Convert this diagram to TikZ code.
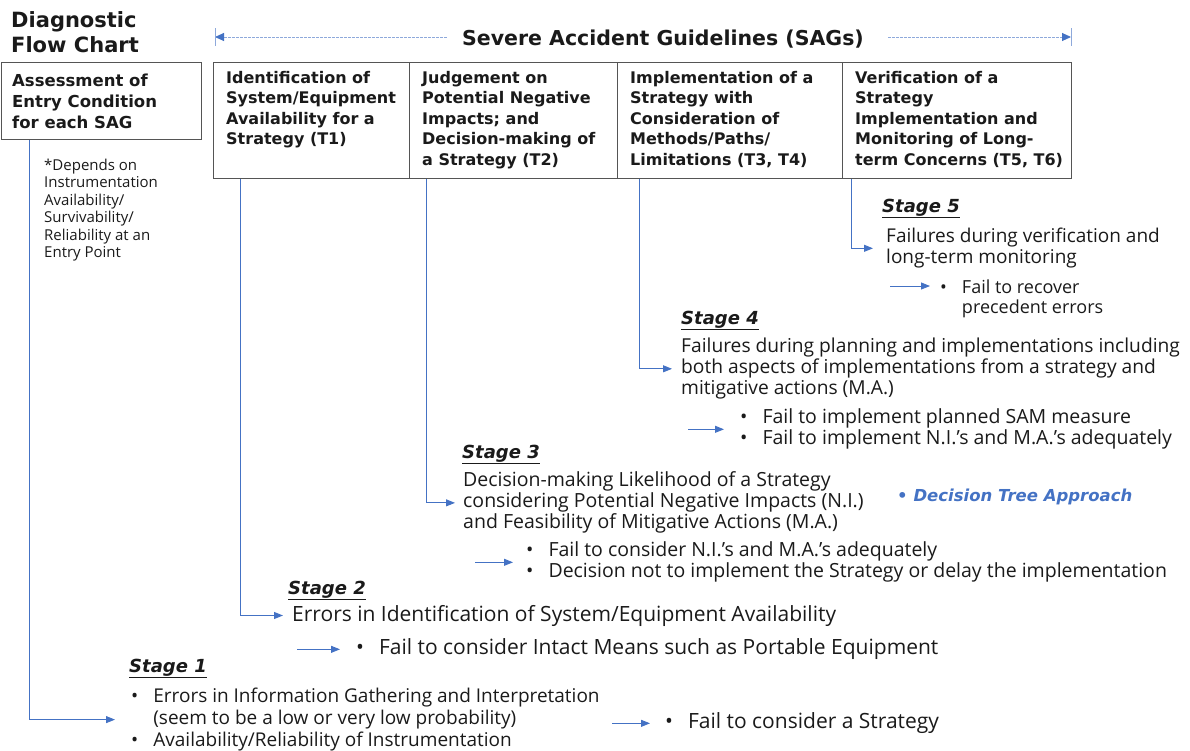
\documentclass[tikz,border=0pt]{standalone}
\usepackage{fontspec}
\setmainfont{Open Sans}
\newfontfamily\djv{DejaVu Sans}
\usetikzlibrary{arrows.meta,calc}
\definecolor{ablue}{HTML}{4472C4}
\definecolor{dashblue}{HTML}{8EA9DB}
\definecolor{boxgray}{HTML}{555555}
\definecolor{ink}{HTML}{1A1A1A}
\newcommand{\mlines}[1]{\begin{tabular}[t]{@{}l@{}}#1\end{tabular}}
\newcommand{\blist}[1]{\begin{tabular}[t]{@{}l@{\hspace{15pt}}l@{}}#1\end{tabular}}
\begin{document}
\begin{tikzpicture}[x=1pt,y=-1pt,
  conn/.style={draw=ablue, line width=0.9pt, -{Triangle[length=9pt,width=7pt]}},
  hdash/.style={draw=dashblue, line width=0.9pt, dash pattern=on 2.5pt off 1.5pt},
  boxshape/.style={draw=boxgray, line width=1pt, anchor=north west, inner sep=0pt},
  boxtext/.style={anchor=base west, inner sep=0pt, text=ink, font=\djv\bfseries\fontsize{16}{20.5}\selectfont},
  body/.style={anchor=base west, inner sep=0pt, text=ink, font=\fontsize{19.5}{21}\selectfont},
  bigbody/.style={anchor=base west, inner sep=0pt, text=ink, font=\fontsize{21}{22}\selectfont},
  stagelbl/.style={anchor=base west, inner sep=0pt, text=ink, font=\djv\bfseries\itshape\fontsize{18}{20}\selectfont},
]
\useasboundingbox (0,0) rectangle (1190,750);

% title
\node[anchor=base west, inner sep=0pt, text=ink, font=\djv\bfseries\fontsize{21}{25}\selectfont] (title) at (11,27) {\mlines{Diagnostic\\Flow Chart}};

% header
\node[anchor=base, inner sep=0pt, text=ink, font=\djv\bfseries\fontsize{20.5}{24}\selectfont] (sag) at (663,45) {Severe Accident Guidelines (SAGs)};
\coordinate (hl) at (215,37);
\coordinate (hr) at (1071,37);
\draw[hdash, -{Triangle[length=9pt,width=8pt,color=ablue]}] ($(sag.west |- hl)+(-15,0)$) -- (hl);
\draw[hdash, -{Triangle[length=9pt,width=8pt,color=ablue]}] ($(sag.east |- hr)+(24,0)$) -- (hr);
\draw[draw=dashblue, line width=0.8pt] ($(hl)+(0,-9)$) -- ($(hl)+(0,9)$);
\draw[draw=dashblue, line width=0.8pt] ($(hr)+(0,-9)$) -- ($(hr)+(0,9)$);

% boxes
\node[boxshape, minimum width=200pt, minimum height=77pt] (ass) at (0.5,62) {};
\node[boxshape, minimum width=196pt, minimum height=116pt] (t1) at (213,62) {};
\node[boxshape, minimum width=208pt, minimum height=116pt] (t2) at (409,62) {};
\node[boxshape, minimum width=225pt, minimum height=116pt] (t3) at (617,62) {};
\node[boxshape, minimum width=229pt, minimum height=116pt] (t4) at (842,62) {};

\node[boxtext, font=\djv\bfseries\fontsize{16.5}{21}\selectfont] (asst) at (12,86) {\mlines{Assessment of\\Entry Condition\\for each SAG}};
\node[boxtext] (t1t) at (226,83) {\mlines{Identification of\\System/Equipment\\Availability for a\\Strategy (T1)}};
\node[boxtext] (t2t) at (422,83) {\mlines{Judgement on\\Potential Negative\\Impacts; and\\Decision-making of\\a Strategy (T2)}};
\node[boxtext] (t3t) at (630,83) {\mlines{Implementation of a\\Strategy with\\Consideration of\\Methods/Paths/\\Limitations (T3, T4)}};
\node[boxtext] (t4t) at (855,83) {\mlines{Verification of a\\Strategy\\Implementation and\\Monitoring of Long-\\term Concerns (T5, T6)}};

% note
\node[anchor=base west, inner sep=0pt, text=ink, font=\fontsize{15}{17.5}\selectfont] (note) at (44,170) {\mlines{*Depends on\\Instrumentation\\Availability/\\Survivability/\\Reliability at an\\Entry Point}};

% stage 5
\node[stagelbl] (st5) at (882,212) {\underline{Stage 5}};
\node[body, font=\fontsize{19}{21}\selectfont] (s5) at (886,242) {\mlines{Failures during verification and\\long-term monitoring}};
\node[body, font=\fontsize{18}{20}\selectfont] (b5) at (940,293) {\blist{•&Fail to recover\\&precedent errors}};
\draw[conn] ($(t4.south west)+(9,0)$) |- ([xshift=-13pt]s5.west);
\draw[conn] ($(b5.base west)+(-50,-7)$) -- ($(b5.base west)+(-10,-7)$);

% stage 4
\node[stagelbl] (st4) at (681,324) {\underline{Stage 4}};
\node[body, font=\fontsize{19.2}{21}\selectfont] (s4) at (681,352) {\mlines{Failures during planning and implementations including\\both aspects of implementations from a strategy and\\mitigative actions (M.A.)}};
\node[body] (b4) at (740,423) {\blist{•&Fail to implement planned SAM measure\\•&Fail to implement N.I.’s and M.A.’s adequately}};
\draw[conn] ($(t3.south west)+(22,0)$) |- ([xshift=-9pt]s4.west);
\draw[conn] ([xshift=-52pt]b4.west) -- ([xshift=-16pt]b4.west);

% stage 3
\node[stagelbl] (st3) at (462,458) {\underline{Stage 3}};
\node[body] (s3) at (463,486) {\mlines{Decision-making Likelihood of a Strategy\\considering Potential Negative Impacts (N.I.)\\and Feasibility of Mitigative Actions (M.A.)}};
\node[anchor=base west, inner sep=0pt, text=ablue, font=\djv\bfseries\itshape\fontsize{16.5}{18}\selectfont] (dta) at (897,501) {• Decision Tree Approach};
\node[body] (b3) at (526,556) {\blist{•&Fail to consider N.I.’s and M.A.’s adequately\\•&Decision not to implement the Strategy or delay the implementation}};
\draw[conn] ($(t2.south west)+(17,0)$) |- ([xshift=-8pt]s3.west);
\draw[conn] ([xshift=-51pt]b3.west) -- ([xshift=-13pt]b3.west);

% stage 2
\node[stagelbl] (st2) at (288,594) {\underline{Stage 2}};
\node[bigbody] (s2) at (292,621) {Errors in Identification of System/Equipment Availability};
\node[bigbody] (b2) at (356,654) {\blist{•&Fail to consider Intact Means such as Portable Equipment}};
\draw[conn] ($(t1.south west)+(27,0)$) |- ([xshift=-9pt]s2.west);
\draw[conn] ([xshift=-59pt]b2.west) -- ([xshift=-16pt]b2.west);

% stage 1
\node[stagelbl] (st1) at (129,672) {\underline{Stage 1}};
\node[body, font=\fontsize{19}{22}\selectfont] (s1) at (131,702) {\blist{•&Errors in Information Gathering and Interpretation\\&(seem to be a low or very low probability)\\•&Availability/Reliability of Instrumentation}};
\draw[conn] ($(ass.south west)+(28.5,0)$) |- ([xshift=-16pt]s1.west);
\node[bigbody] (b1) at (665,728) {\blist{•&Fail to consider a Strategy}};
\draw[conn] ([xshift=-53pt]b1.west) -- ([xshift=-15pt]b1.west);
\end{tikzpicture}
\end{document}
